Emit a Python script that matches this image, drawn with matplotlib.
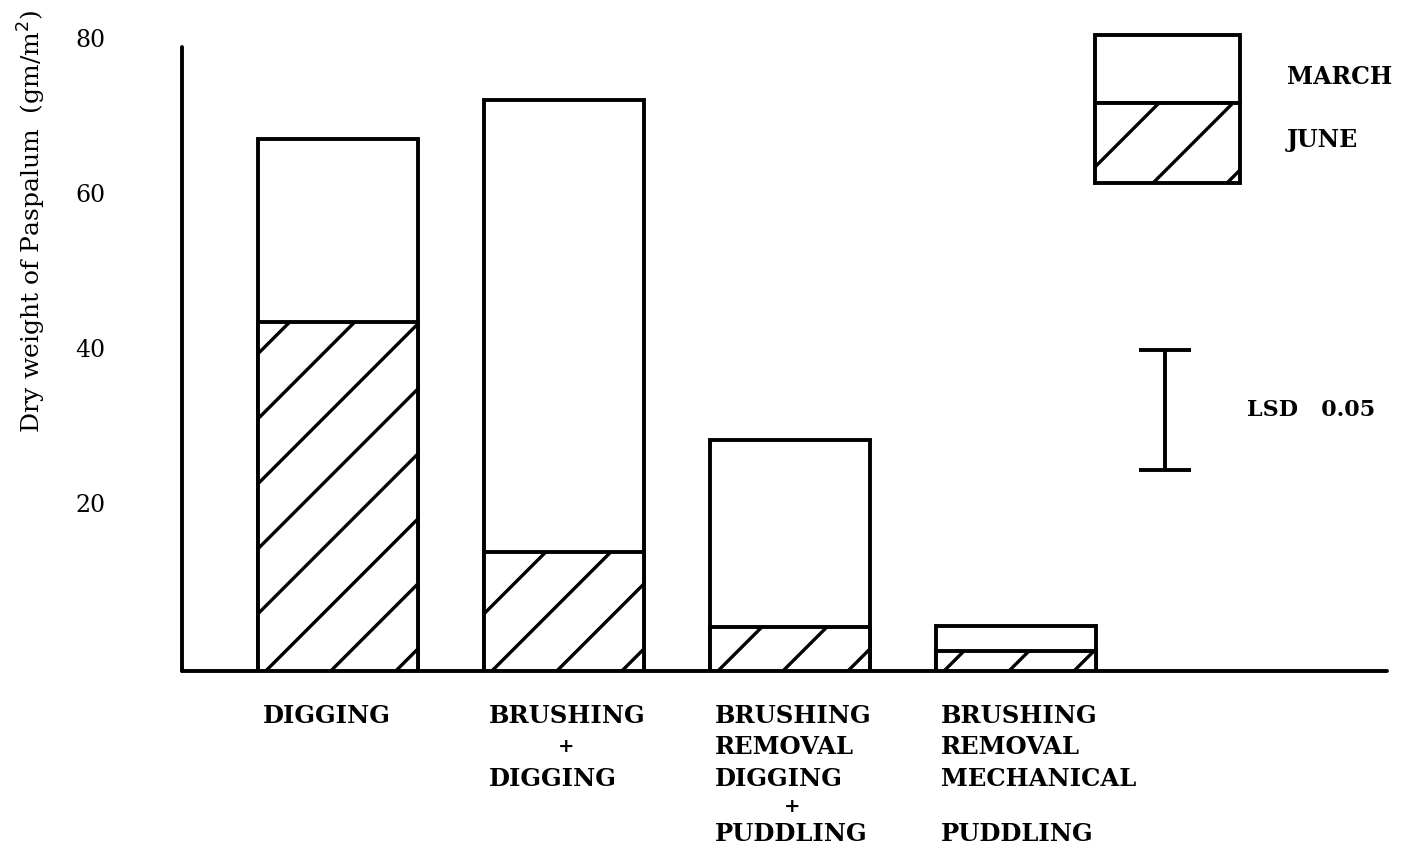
import matplotlib
matplotlib.use("Agg")
import matplotlib.pyplot as plt
from matplotlib.transforms import ScaledTranslation, IdentityTransform
from matplotlib.patches import Rectangle
from matplotlib.lines import Line2D
import numpy as np

# ---- data -------------------------------------------------------------
treatments = [
    "DIGGING",
    "BRUSHING\n+\nDIGGING",
    "BRUSHING\nREMOVAL\nDIGGING\n+\nPUDDLING",
    "BRUSHING\nREMOVAL\nMECHANICAL\n\nPUDDLING",
]
march = [68.6, 73.7, 29.8, 5.8]   # dry weight, March sampling (gm/m2)
june = [45.0, 15.4, 5.7, 2.6]     # dry weight, June sampling (gm/m2)
lsd_center = 33.7
lsd_half = 7.75
yticks = [20, 40, 60, 80]

# ---- figure geometry --------------------------------------------------
W, H, DPI = 1410, 848, 100
fig = plt.figure(figsize=(W / DPI, H / DPI), dpi=DPI)
fig.patch.set_facecolor("white")

x0_px, x1_px = 182, 1387
y0_px, y1_px = 671, 47
ax = fig.add_axes([x0_px / W, 1 - y0_px / H, (x1_px - x0_px) / W, (y0_px - y1_px) / H])

BAR_W = 0.71
xpos = np.arange(len(treatments))
ax.set_xlim(-0.69, 4.64)
ax.set_ylim(0, 80.5)

FONT = "DejaVu Serif"
LW = 2.8

for s in ("top", "right"):
    ax.spines[s].set_visible(False)
for s in ("left", "bottom"):
    ax.spines[s].set_linewidth(LW)
    ax.spines[s].set_capstyle("round")

ax.set_xticks([])
ax.set_yticks(yticks)
ax.set_yticklabels([str(v) for v in yticks], fontfamily=FONT, fontsize=17)
ax.tick_params(axis="y", length=0, pad=55)
lift = ScaledTranslation(0, 12.5 / DPI, fig.dpi_scale_trans)
for lab in ax.get_yticklabels():
    lab.set_transform(lab.get_transform() + lift)

# ---- bars ---------------------------------------------------------------
march_bars = ax.bar(xpos, march, BAR_W, facecolor="white", edgecolor="black",
                    linewidth=LW, zorder=2)
june_bars = ax.bar(xpos, june, BAR_W, facecolor="white", edgecolor="black",
                   linewidth=LW, zorder=3)


def hatch_rect(left, bottom, right, top, spacing, phase, clip, lw=2.4, zorder=2.5):
    """Draw sparse '/' hatch lines (45 deg in pixels) inside a rectangle
    given in display pixels, clipped to a patch."""
    h = top - bottom
    start = left + phase - np.ceil((h + phase) / spacing) * spacing
    xs = np.arange(start, right + spacing, spacing)
    for xb in xs:
        ln = Line2D([xb, xb + h + 10], [bottom, bottom + h + 10], color="black",
                    linewidth=lw, transform=IdentityTransform(), zorder=zorder,
                    solid_capstyle="butt")
        fig.add_artist(ln)
        ln.set_clip_path(clip)


fig.canvas.draw()
for bar in june_bars:
    (l, b), (r, t) = ax.transData.transform([(bar.get_x(), 0),
                                              (bar.get_x() + bar.get_width(), bar.get_height())])
    hatch_rect(l, b, r, t, 65, 8, bar, zorder=1)

# ---- LSD bar ------------------------------------------------------------
ax.errorbar([3.66], [lsd_center], yerr=[lsd_half], fmt="none", ecolor="black",
            elinewidth=LW, capsize=18.5, capthick=LW, zorder=5)
ax.text(1247 / W, 1 - 410 / H, "LSD   0.05", transform=fig.transFigure,
        fontfamily=FONT, fontsize=16, fontweight="bold", va="center", ha="left")

# ---- legend box -----------------------------------------------------------
def px(x, y):
    return x, H - y

lx0, lx1, ly_top, ly_mid, ly_bot = 1095, 1240, 35, 103, 183
upper = Rectangle(px(lx0, ly_mid), lx1 - lx0, ly_mid - ly_top, transform=IdentityTransform(),
                  facecolor="white", edgecolor="black", linewidth=LW, zorder=3)
lower = Rectangle(px(lx0, ly_bot), lx1 - lx0, ly_bot - ly_mid, transform=IdentityTransform(),
                  facecolor="white", edgecolor="black", linewidth=LW, zorder=3)
fig.add_artist(upper)
fig.add_artist(lower)
hatch_rect(lx0, H - ly_bot, lx1, H - ly_mid, 74, -16, lower, zorder=3.5)
fig.text(1287 / W, 1 - 77 / H, "MARCH", fontfamily=FONT, fontsize=17,
         fontweight="bold", va="center", ha="left")
fig.text(1287 / W, 1 - 140 / H, "JUNE", fontfamily=FONT, fontsize=17,
         fontweight="bold", va="center", ha="left")

# ---- y label ---------------------------------------------------------------
fig.text(32 / W, 1 - 221 / H, "Dry weight of Paspalum  (gm/m$^2$)", rotation=90,
         fontfamily=FONT, fontsize=18, va="center", ha="center")

# ---- treatment labels under each bar ------------------------------------------
row_px = [45, 76, 108, 136, 163]
base = ax.get_xaxis_transform()
for xi, name in zip(xpos, treatments):
    for ri, line in enumerate(name.split("\n")):
        if not line:
            continue
        if line == "+":
            dx, ha, fs = 2, "center", 14
        else:
            dx, ha, fs = -75, "left", 17.5
        tr = base + ScaledTranslation(dx / DPI, -row_px[ri] / DPI, fig.dpi_scale_trans)
        ax.text(xi, 0, line, transform=tr, fontfamily=FONT, fontsize=fs,
                fontweight="bold", ha=ha, va="center", clip_on=False)

fig.savefig("out.png", dpi=DPI, facecolor="white")
